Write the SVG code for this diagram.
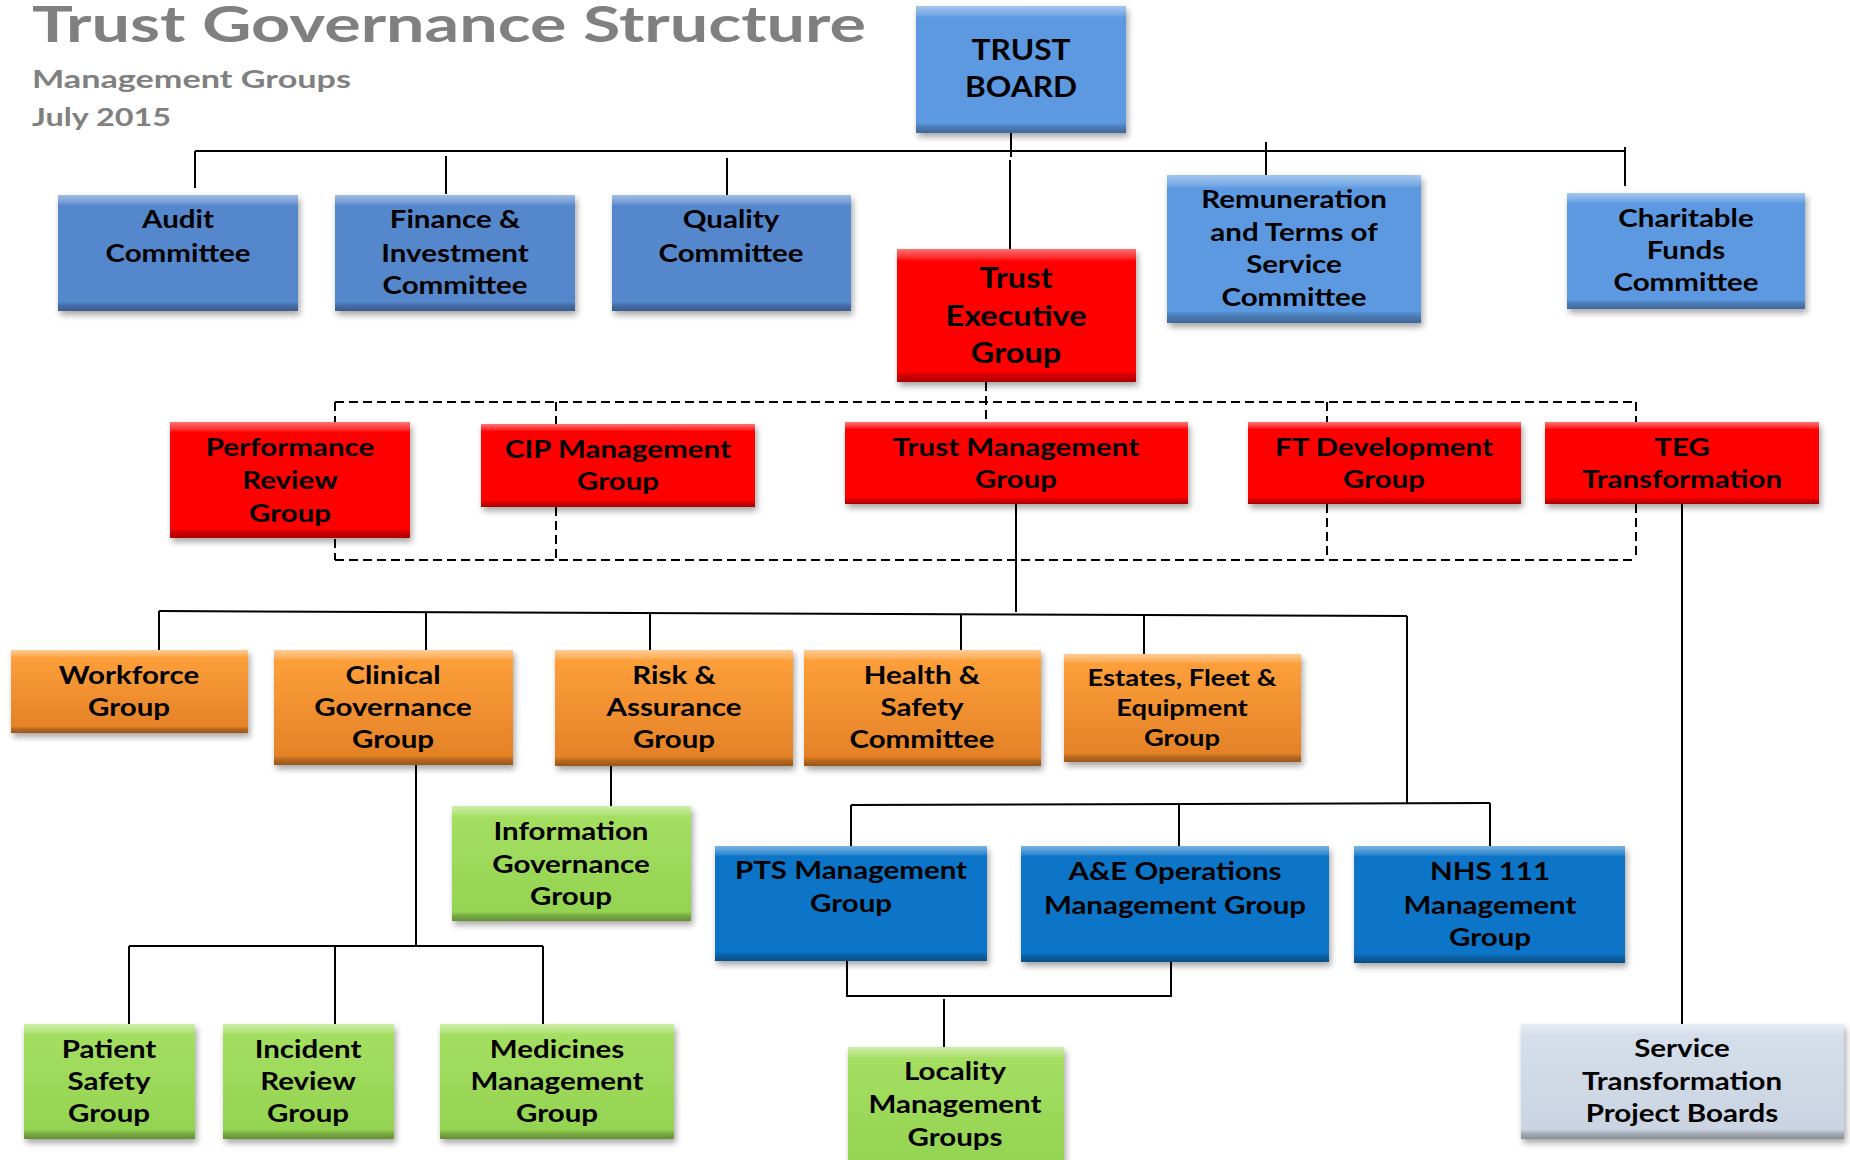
<svg xmlns="http://www.w3.org/2000/svg" width="1850" height="1160" viewBox="0 0 1850 1160">
<defs>
<filter id="sh" x="-10%" y="-10%" width="130%" height="140%"><feDropShadow dx="2" dy="4" stdDeviation="3" flood-color="#000" flood-opacity="0.35"/></filter>
<linearGradient id="bevel" x1="0" y1="0" x2="0" y2="1">
<stop offset="0" stop-color="#fff" stop-opacity="0.45"/>
<stop offset="0.07" stop-color="#fff" stop-opacity="0.15"/>
<stop offset="0.09" stop-color="#fff" stop-opacity="0"/>
<stop offset="0.92" stop-color="#000" stop-opacity="0"/>
<stop offset="0.95" stop-color="#000" stop-opacity="0.18"/>
<stop offset="1" stop-color="#000" stop-opacity="0.32"/>
</linearGradient>
<linearGradient id="gOr" x1="0" y1="0" x2="0" y2="1"><stop offset="0" stop-color="#ffa23c"/><stop offset="1" stop-color="#e27f26"/></linearGradient>
<linearGradient id="gGr" x1="0" y1="0" x2="0" y2="1"><stop offset="0" stop-color="#a6e064"/><stop offset="1" stop-color="#93d250"/></linearGradient>
<linearGradient id="gGy" x1="0" y1="0" x2="0" y2="1"><stop offset="0" stop-color="#d6dfeb"/><stop offset="1" stop-color="#c9d3e1"/></linearGradient>
</defs>
<style>
.box{filter:url(#sh)}
.bv{fill:url(#bevel)}
.b1{fill:#5587cc}
.b2{fill:#5b99e0}
.rd{fill:#fe0000}
.or{fill:url(#gOr)}
.gr{fill:url(#gGr)}
.db{fill:#0a74c8}
.gy{fill:url(#gGy)}
.t{font-family:Lato,"Liberation Sans",sans-serif;font-weight:700;font-size:25px;fill:#000;text-anchor:middle}
.tb{font-size:28px}
.ts{font-size:23px}
.hd{font-family:Lato,"Liberation Sans",sans-serif;font-weight:700;fill:#808080}
.ln{stroke:#000;stroke-width:2;fill:none}
.dl{stroke:#000;stroke-width:2;fill:none;stroke-dasharray:9 5}
</style>

<g id="title">
<text class="hd" x="32" y="42" font-size="50" textLength="834" lengthAdjust="spacingAndGlyphs">Trust Governance Structure</text>
<text class="hd" x="32" y="88" font-size="25" textLength="319" lengthAdjust="spacingAndGlyphs">Management Groups</text>
<text class="hd" x="32" y="126" font-size="25" textLength="139" lengthAdjust="spacingAndGlyphs">July 2015</text>
</g>

<g id="connectors">
<path class="ln" d="M195 151H1625"/>
<path class="ln" d="M195 151V188"/>
<path class="ln" d="M446 156V194"/>
<path class="ln" d="M727 158V196"/>
<path class="ln" d="M1011 133V157"/>
<path class="ln" d="M1010 160V249"/>
<path class="ln" d="M1266 142V175"/>
<path class="ln" d="M1625 147V186"/>
<path class="dl" d="M986 382V422"/>
<path class="dl" d="M335 402H1636"/>
<path class="dl" d="M335 560H1636"/>
<path class="dl" d="M335 402V422M335 539V560"/>
<path class="dl" d="M556 402V424M556 507V560"/>
<path class="dl" d="M1327 402V422M1327 504V560"/>
<path class="dl" d="M1636 402V422M1636 504V560"/>
<path class="ln" d="M1016 504V612"/>
<path class="ln" d="M159 611L1407 616"/>
<path class="ln" d="M159 611V650"/>
<path class="ln" d="M426 612V650"/>
<path class="ln" d="M650 613V650"/>
<path class="ln" d="M961 614V650"/>
<path class="ln" d="M1144 615V654"/>
<path class="ln" d="M1407 616V804"/>
<path class="ln" d="M851 805L1490 803"/>
<path class="ln" d="M851 805V846"/>
<path class="ln" d="M1179 804V846"/>
<path class="ln" d="M1490 803V846"/>
<path class="ln" d="M611 766V806"/>
<path class="ln" d="M416 765V946"/>
<path class="ln" d="M129 946H543"/>
<path class="ln" d="M129 946V1024M335 946V1024M543 946V1024"/>
<path class="ln" d="M847 961V996H1171V960"/>
<path class="ln" d="M944 999V1047"/>
<path class="ln" d="M1682 504V1024"/>
</g>

<g id="trust-board"><rect class="box b2" x="916" y="6" width="210" height="127"/><rect class="bv" x="916" y="6" width="210" height="127"/>
<text class="t tb" transform="translate(1021 0) scale(1.13 1)"><tspan x="0" y="60">TRUST</tspan><tspan x="0" y="97">BOARD</tspan></text></g>

<g id="audit-committee"><rect class="box b1" x="58" y="195" width="240" height="116"/><rect class="bv" x="58" y="195" width="240" height="116"/>
<text class="t" transform="translate(178 0) scale(1.18 1)"><tspan x="0" y="228">Audit</tspan><tspan x="0" y="262">Committee</tspan></text></g>

<g id="finance-committee"><rect class="box b1" x="335" y="195" width="240" height="116"/><rect class="bv" x="335" y="195" width="240" height="116"/>
<text class="t" transform="translate(455 0) scale(1.18 1)"><tspan x="0" y="228">Finance &amp;</tspan><tspan x="0" y="262">Investment</tspan><tspan x="0" y="294">Committee</tspan></text></g>

<g id="quality-committee"><rect class="box b1" x="612" y="195" width="239" height="116"/><rect class="bv" x="612" y="195" width="239" height="116"/>
<text class="t" transform="translate(731 0) scale(1.18 1)"><tspan x="0" y="228">Quality</tspan><tspan x="0" y="262">Committee</tspan></text></g>

<g id="trust-executive-group"><rect class="box rd" x="897" y="249" width="239" height="133"/><rect class="bv" x="897" y="249" width="239" height="133"/>
<text class="t tb" transform="translate(1016 0) scale(1.16 1)"><tspan x="0" y="288">Trust</tspan><tspan x="0" y="326">Executive</tspan><tspan x="0" y="363">Group</tspan></text></g>

<g id="remuneration-committee"><rect class="box b2" x="1167" y="175" width="254" height="148"/><rect class="bv" x="1167" y="175" width="254" height="148"/>
<text class="t" transform="translate(1294 0) scale(1.18 1)"><tspan x="0" y="208">Remuneration</tspan><tspan x="0" y="241">and Terms of</tspan><tspan x="0" y="273">Service</tspan><tspan x="0" y="306">Committee</tspan></text></g>

<g id="charitable-funds-committee"><rect class="box b2" x="1567" y="193" width="238" height="116"/><rect class="bv" x="1567" y="193" width="238" height="116"/>
<text class="t" transform="translate(1686 0) scale(1.18 1)"><tspan x="0" y="227">Charitable</tspan><tspan x="0" y="259">Funds</tspan><tspan x="0" y="291">Committee</tspan></text></g>

<g id="performance-review-group"><rect class="box rd" x="170" y="422" width="240" height="116"/><rect class="bv" x="170" y="422" width="240" height="116"/>
<text class="t" transform="translate(290 0) scale(1.18 1)"><tspan x="0" y="456">Performance</tspan><tspan x="0" y="489">Review</tspan><tspan x="0" y="522">Group</tspan></text></g>

<g id="cip-management-group"><rect class="box rd" x="481" y="424" width="274" height="83"/><rect class="bv" x="481" y="424" width="274" height="83"/>
<text class="t" transform="translate(618 0) scale(1.18 1)"><tspan x="0" y="458">CIP Management</tspan><tspan x="0" y="490">Group</tspan></text></g>

<g id="trust-management-group"><rect class="box rd" x="845" y="422" width="343" height="82"/><rect class="bv" x="845" y="422" width="343" height="82"/>
<text class="t" transform="translate(1016 0) scale(1.18 1)"><tspan x="0" y="456">Trust Management</tspan><tspan x="0" y="488">Group</tspan></text></g>

<g id="ft-development-group"><rect class="box rd" x="1248" y="422" width="273" height="82"/><rect class="bv" x="1248" y="422" width="273" height="82"/>
<text class="t" transform="translate(1384 0) scale(1.18 1)"><tspan x="0" y="456">FT Development</tspan><tspan x="0" y="488">Group</tspan></text></g>

<g id="teg-transformation"><rect class="box rd" x="1545" y="422" width="274" height="82"/><rect class="bv" x="1545" y="422" width="274" height="82"/>
<text class="t" transform="translate(1682 0) scale(1.18 1)"><tspan x="0" y="456">TEG</tspan><tspan x="0" y="488">Transformation</tspan></text></g>

<g id="workforce-group"><rect class="box or" x="11" y="650" width="237" height="83"/><rect class="bv" x="11" y="650" width="237" height="83"/>
<text class="t" transform="translate(129 0) scale(1.18 1)"><tspan x="0" y="684">Workforce</tspan><tspan x="0" y="716">Group</tspan></text></g>

<g id="clinical-governance-group"><rect class="box or" x="274" y="650" width="239" height="115"/><rect class="bv" x="274" y="650" width="239" height="115"/>
<text class="t" transform="translate(393 0) scale(1.18 1)"><tspan x="0" y="684">Clinical</tspan><tspan x="0" y="716">Governance</tspan><tspan x="0" y="748">Group</tspan></text></g>

<g id="risk-assurance-group"><rect class="box or" x="555" y="650" width="238" height="116"/><rect class="bv" x="555" y="650" width="238" height="116"/>
<text class="t" transform="translate(674 0) scale(1.18 1)"><tspan x="0" y="684">Risk &amp;</tspan><tspan x="0" y="716">Assurance</tspan><tspan x="0" y="748">Group</tspan></text></g>

<g id="health-safety-committee"><rect class="box or" x="804" y="650" width="237" height="116"/><rect class="bv" x="804" y="650" width="237" height="116"/>
<text class="t" transform="translate(922 0) scale(1.18 1)"><tspan x="0" y="684">Health &amp;</tspan><tspan x="0" y="716">Safety</tspan><tspan x="0" y="748">Committee</tspan></text></g>

<g id="estates-fleet-equipment-group"><rect class="box or" x="1064" y="654" width="237" height="108"/><rect class="bv" x="1064" y="654" width="237" height="108"/>
<text class="t ts" transform="translate(1182 0) scale(1.19 1)"><tspan x="0" y="686">Estates, Fleet &amp;</tspan><tspan x="0" y="716">Equipment</tspan><tspan x="0" y="746">Group</tspan></text></g>

<g id="information-governance-group"><rect class="box gr" x="452" y="806" width="239" height="115"/><rect class="bv" x="452" y="806" width="239" height="115"/>
<text class="t" transform="translate(571 0) scale(1.18 1)"><tspan x="0" y="840">Information</tspan><tspan x="0" y="873">Governance</tspan><tspan x="0" y="905">Group</tspan></text></g>

<g id="pts-management-group"><rect class="box db" x="715" y="846" width="272" height="115"/><rect class="bv" x="715" y="846" width="272" height="115"/>
<text class="t" transform="translate(851 0) scale(1.18 1)"><tspan x="0" y="879">PTS Management</tspan><tspan x="0" y="912">Group</tspan></text></g>

<g id="ae-operations-management-group"><rect class="box db" x="1021" y="846" width="308" height="116"/><rect class="bv" x="1021" y="846" width="308" height="116"/>
<text class="t" transform="translate(1175 0) scale(1.18 1)"><tspan x="0" y="880">A&amp;E Operations</tspan><tspan x="0" y="914">Management Group</tspan></text></g>

<g id="nhs-111-management-group"><rect class="box db" x="1354" y="846" width="271" height="117"/><rect class="bv" x="1354" y="846" width="271" height="117"/>
<text class="t" transform="translate(1490 0) scale(1.18 1)"><tspan x="0" y="880">NHS 111</tspan><tspan x="0" y="914">Management</tspan><tspan x="0" y="946">Group</tspan></text></g>

<g id="patient-safety-group"><rect class="box gr" x="24" y="1024" width="171" height="115"/><rect class="bv" x="24" y="1024" width="171" height="115"/>
<text class="t" transform="translate(109 0) scale(1.18 1)"><tspan x="0" y="1058">Patient</tspan><tspan x="0" y="1090">Safety</tspan><tspan x="0" y="1122">Group</tspan></text></g>

<g id="incident-review-group"><rect class="box gr" x="223" y="1024" width="171" height="115"/><rect class="bv" x="223" y="1024" width="171" height="115"/>
<text class="t" transform="translate(308 0) scale(1.18 1)"><tspan x="0" y="1058">Incident</tspan><tspan x="0" y="1090">Review</tspan><tspan x="0" y="1122">Group</tspan></text></g>

<g id="medicines-management-group"><rect class="box gr" x="440" y="1024" width="234" height="115"/><rect class="bv" x="440" y="1024" width="234" height="115"/>
<text class="t" transform="translate(557 0) scale(1.18 1)"><tspan x="0" y="1058">Medicines</tspan><tspan x="0" y="1090">Management</tspan><tspan x="0" y="1122">Group</tspan></text></g>

<g id="locality-management-groups"><rect class="box gr" x="848" y="1047" width="216" height="125"/><rect class="bv" x="848" y="1047" width="216" height="125"/>
<text class="t" transform="translate(955 0) scale(1.18 1)"><tspan x="0" y="1080">Locality</tspan><tspan x="0" y="1113">Management</tspan><tspan x="0" y="1146">Groups</tspan></text></g>

<g id="service-transformation-project-boards"><rect class="box gy" x="1521" y="1024" width="323" height="115"/><rect class="bv" x="1521" y="1024" width="323" height="115"/>
<text class="t" transform="translate(1682 0) scale(1.18 1)"><tspan x="0" y="1057">Service</tspan><tspan x="0" y="1090">Transformation</tspan><tspan x="0" y="1122">Project Boards</tspan></text></g>
</svg>
